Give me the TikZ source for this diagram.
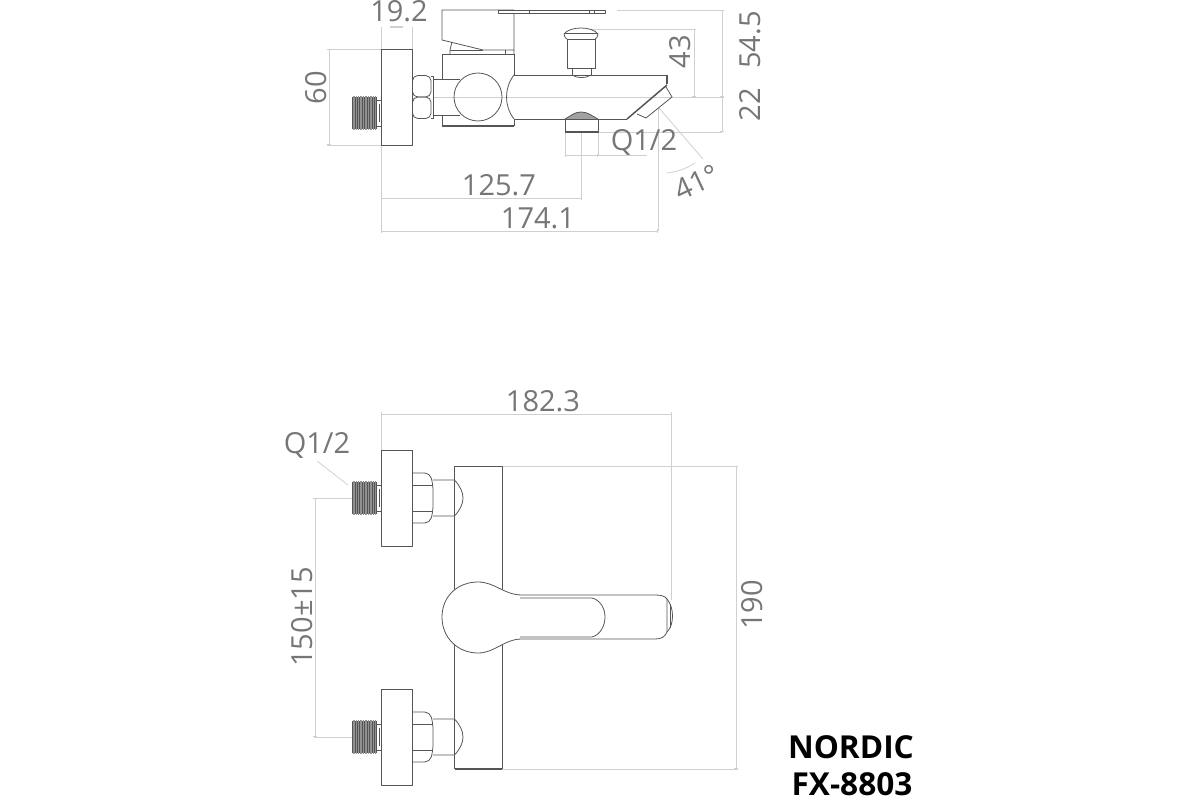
\documentclass[tikz,border=0pt]{standalone}
\usepackage{fontspec}
\setmainfont{Open Sans}
\newfontfamily\brandfont[Scale=1]{Open Sans}
\usetikzlibrary{arrows.meta}
\definecolor{dimgray}{RGB}{118,118,118}
\definecolor{extgray}{RGB}{208,208,208}
\definecolor{partgray}{RGB}{85,85,85}
\tikzset{
  outline/.style={draw=partgray,line width=0.45pt,line join=round},
  heavy/.style={draw=partgray,line width=0.85pt},
  extline/.style={draw=extgray,line width=0.45pt},
  dimline/.style={draw=extgray,line width=0.45pt,{Bar[width=2pt,length=0.4pt]}-{Bar[width=2pt,length=0.4pt]}},
  dimtext/.style={text=dimgray,font=\fontsize{16.5}{18}\selectfont,inner sep=0pt},
  brandtext/.style={text=black,font=\brandfont\bfseries\fontsize{18}{20}\selectfont,inner sep=0pt}
}
% threaded stub and wall plate, #1 = y of the axis
\newcommand{\threadpart}[1]{
\fill [partgray] (352,{-#1+16}) rectangle (377,{-#1-16});
\foreach \xr in {353,354.7,...,376.5}
  \draw [white!35!partgray,line width=0.3pt] (\xr,{-#1+16.6}) -- (\xr,{-#1-16.6});
\draw [outline] (377,{-#1+13}) -- (381,{-#1+13});
\draw [outline] (377,{-#1-13}) -- (381,{-#1-13});
\draw [outline] (379,{-#1+9}) -- (379,{-#1-9});
}
\begin{document}
\begin{tikzpicture}[x=0.02cm,y=0.02cm]
\useasboundingbox (0,0) rectangle (1200,-800);
% side view: dimension lines
\draw [extline] (381,-27) -- (381,-231);
\draw [extline] (412,-27) -- (412,-49);
\draw [extline] (327,-49.5) -- (381,-49.5);
\draw [extline] (327,-145) -- (381,-145);
\draw [extline] (581.7,-132) -- (581.7,-198);
\draw [extline] (658,-108) -- (658,-231);
\draw [extline] (565,-132) -- (565,-156);
\draw [extline] (598,-132) -- (598,-156);
\draw [extline] (598,-155.5) -- (647,-155.5);
\draw [extline] (659,-108) -- (703,-159);
\draw [extline] (667,-173) to [bend right=12] (695,-163);
\draw [extline] (590,-29) -- (694,-29);
\draw [extline] (617,-10.5) -- (722,-10.5);
\draw [extline] (598,-132) -- (722,-132);
\draw [extline] (433,-97) -- (722,-97);
\draw [extline,line width=0.8pt] (390,-27) -- (403,-27);
\draw [dimline] (329,-49.5) -- (329,-145);
\draw [dimline] (381,-198) -- (581.7,-198);
\draw [dimline] (381,-231) -- (658,-231);
\draw [dimline] (565,-155.5) -- (598,-155.5);
\draw [dimline] (694,-29) -- (694,-97);
\draw [dimline] (722,-10.5) -- (722,-97);
\draw [dimline] (722,-97) -- (722,-132);
% side view: parts
\threadpart{113}
\draw [outline] (381,-49.5) rectangle (412,-145);
\draw [heavy] (412.5,-49.5) -- (412.5,-145);
\draw [outline,rounded corners=3pt] (412.5,-75.5) rectangle (431,-97);
\draw [outline,rounded corners=3pt] (412.5,-97) rectangle (431,-118.5);
\draw [outline] (431,-76) -- (433,-76) -- (433,-118) -- (431,-118);
\draw [outline] (433,-79) -- (460,-79);
\draw [outline] (433,-115.5) -- (460,-115.5);
\draw [outline] (442,-54) -- (514,-54);
\draw [outline] (442,-54) -- (442,-79);
\draw [outline] (442,-115.5) -- (442,-126);
\draw [outline] (514,-54) -- (514,-75);
\draw [outline] (514,-119) -- (514,-126);
\draw [heavy] (442,-126) -- (514,-126);
\draw [outline] (478,-97) circle (24);
\draw [outline] (514,-75) .. controls (504,-88) and (504,-106) .. (514,-119);
% handle and lever on top
\draw [outline] (514,-54) -- (514,-10) -- (442,-10) -- (442,-40) -- (483,-50) -- (514,-50);
\draw [outline] (452,-42) -- (450,-50) -- (450,-54);
\draw [outline] (450,-50) -- (483,-50);
\draw [outline] (505,-50) -- (505,-54);
\draw [outline,fill=white] (498,-10.5) rectangle (605,-13.5);
\draw [outline] (529,-10.5) -- (529,-13.5);
\draw [outline] (589,-10.5) -- (589,-13.5);
\draw [outline] (594,-10.5) -- (594,-13.5);
% spout
\draw [outline] (514,-75) -- (667,-75);
\draw [heavy] (667,-75) -- (667,-84);
\draw [outline] (514,-119) -- (627,-119);
\draw [heavy] (627,-119) -- (667,-85);
\draw [outline] (637,-114) -- (646,-118) -- (672,-97) -- (666,-87);
% diverter knob
\draw [outline] (567,-39) -- (567,-68) -- (595,-68) -- (595,-39);
\draw [outline] (567,-39) -- (595,-39);
\draw [outline] (564,-34) .. controls (570,-26) and (592,-26) .. (598,-34) .. controls (598,-37) and (596,-39) .. (595,-39);
\draw [outline] (564,-34) .. controls (564,-37) and (566,-39) .. (567,-39);
\draw [outline] (565,-33) -- (597,-33);
\draw [outline] (572,-68) -- (572,-75);
\draw [outline] (591,-68) -- (591,-75);
\draw [outline] (572,-75) .. controls (577,-78.5) and (586,-78.5) .. (591,-75);
% outlet fitting
\draw [outline] (565,-119) -- (565,-132) -- (598,-132) -- (598,-119);
\draw [heavy] (565,-132) -- (598,-132);
\fill [partgray!55] (565,-119) .. controls (571,-116) and (574,-112) .. (581,-112) .. controls (588,-112) and (592,-116) .. (598,-119) -- cycle;
\draw [outline] (565,-119) .. controls (571,-116) and (574,-112) .. (581,-112) .. controls (588,-112) and (592,-116) .. (598,-119);
% side view: labels
\node [dimtext] (widthplate) at (399,-11) {19.2};
\node [dimtext,rotate=90] (heightplate) at (316,-88) {60};
\node [dimtext] (reachoutlet) at (499,-185) {125.7};
\node [dimtext] (reachspout) at (538,-218) {174.1};
\node [dimtext] (threadoutlet) at (644,-142) {Q1/2};
\node [dimtext,rotate=25] (anglespout) at (697,-182) {41°};
\node [dimtext,rotate=90] (heightknob) at (680,-52) {43};
\node [dimtext,rotate=90] (heighttop) at (750,-40) {54.5};
\node [dimtext,rotate=90] (heightdown) at (750,-105) {22};
% front view: dimension lines
\draw [extline] (381,-414) -- (381,-450);
\draw [extline] (671.7,-414) -- (671.7,-600);
\draw [extline] (502,-466) -- (738,-466);
\draw [extline] (502,-769) -- (738,-769);
\draw [extline] (314,-498) -- (352,-498);
\draw [extline] (314,-737) -- (352,-737);
\draw [extline] (317,-461) -- (348,-485);
\draw [dimline] (381,-414) -- (671.7,-414);
\draw [dimline] (736,-466) -- (736,-769);
\draw [dimline] (315,-498) -- (315,-737);
% front view: body
\draw [outline] (454.5,-769) -- (454.5,-466) -- (502,-466) -- (502,-769);
\draw [heavy] (454.5,-769) -- (502,-769);
% front view: upper and lower connection
\foreach \ya in {498,737}{
  \threadpart{\ya}
  \draw [outline] (381,{-\ya+48}) rectangle (412,{-\ya-48});
  \draw [heavy] (412.5,{-\ya+48}) -- (412.5,{-\ya-48});
  \draw [outline,rounded corners=3pt] (412.5,{-\ya+25}) -- (430,{-\ya+25}) -- (433,{-\ya+13}) -- (433,{-\ya-13}) -- (430,{-\ya-25}) -- (412.5,{-\ya-25});
  \draw [outline] (412.5,{-\ya+13}) -- (433,{-\ya+13});
  \draw [outline] (412.5,{-\ya-13}) -- (433,{-\ya-13});
  \draw [outline] (433,{-\ya+18}) -- (454.5,{-\ya+18}) .. controls (460,{-\ya+12}) and (463,{-\ya+6}) .. (463,-\ya) .. controls (463,{-\ya-6}) and (460,{-\ya-12}) .. (454.5,{-\ya-18}) -- (433,{-\ya-18});
}
% front view: lever
\draw [outline,fill=white] (442,-617) .. controls (442,-596) and (458,-582) .. (478,-582) .. controls (495,-582) and (504,-595) .. (522,-595) -- (655,-595) .. controls (661,-595) and (665,-596) .. (667,-599) -- (667,-632) .. controls (665,-637) and (661,-639) .. (655,-639) -- (522,-639) .. controls (504,-639) and (495,-653) .. (478,-653) .. controls (458,-653) and (442,-638) .. (442,-617) -- cycle;
\draw [outline] (520,-598) -- (592,-598) .. controls (600,-600) and (605,-608) .. (605,-617) .. controls (605,-626) and (600,-635) .. (592,-637) -- (520,-637);
\draw [outline] (667,-599) .. controls (671,-604) and (672.5,-610) .. (672.5,-616) .. controls (672.5,-622) and (671,-628) .. (667,-632);
\draw [outline] (670,-604) -- (670,-628);
% front view: labels
\node [dimtext] (widthall) at (543,-401) {182.3};
\node [dimtext] (threadinlet) at (317,-445) {Q1/2};
\node [dimtext,rotate=90] (centres) at (302,-617) {150±15};
\node [dimtext,rotate=90] (heightall) at (752,-605) {190};
\node [brandtext] (brand) at (851,-747) {NORDIC};
\node [brandtext] (model) at (852,-784) {FX-8803};
\end{tikzpicture}
\end{document}
